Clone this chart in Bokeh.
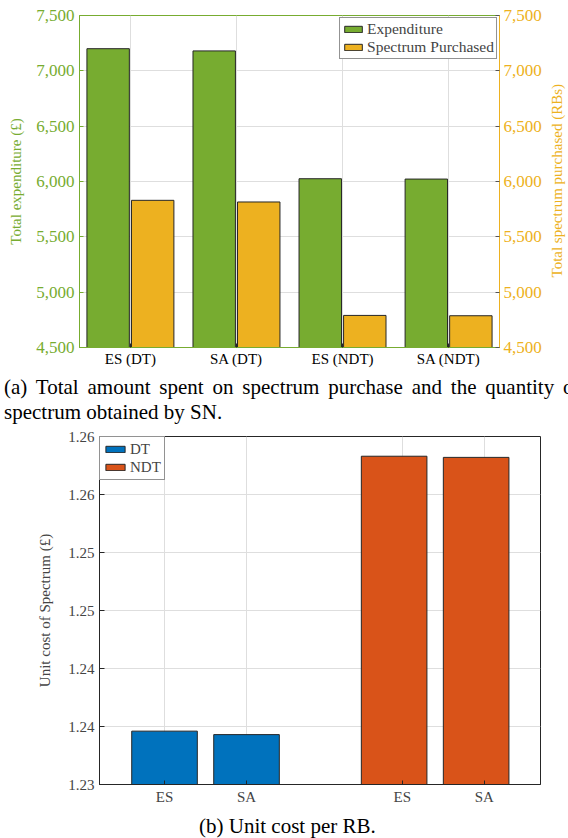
import numpy as np
from bokeh.plotting import figure
from bokeh.models import (Range1d, LinearAxis, FixedTicker, NumeralTickFormatter,
                          Legend, LegendItem, Div)
from bokeh.layouts import column, row
from bokeh.embed import file_html
from bokeh.resources import INLINE

# ---------------- data (a) ----------------
categories_a = ["ES (DT)", "SA (DT)", "ES (NDT)", "SA (NDT)"]
expenditure = [7200, 7180, 6025, 6022]
spectrum_purchased = [5830, 5815, 4790, 4787]
ticks_a = [4500, 5000, 5500, 6000, 6500, 7000, 7500]

# ---------------- data (b) ----------------
schemes_b = ["ES", "SA"]
unit_cost_dt = [1.2346, 1.2343]
unit_cost_ndt = [1.2583, 1.2582]
dt_pos = [1, 2]
ndt_pos = [3.8, 4.8]
tick_pos_b = [1, 2, 3.9, 4.9]
tick_text_b = ["ES", "SA", "ES", "SA"]
ticks_b = [1.230, 1.235, 1.240, 1.245, 1.250, 1.255, 1.260]
tick_labels_b = ["1.23", "1.24", "1.24", "1.25", "1.25", "1.26", "1.26"]

caption_a1 = "(a) Total amount spent on spectrum purchase and the quantity of"
caption_a2 = "spectrum obtained by SN."
caption_b = "(b) Unit cost per RB."
right_label_a = "Total spectrum purchased (RBs)"

FONT = "Liberation Serif"
CSS_FONT = "font-family:'Liberation Serif',serif;"
GREEN = "#77AC30"
ORANGE = "#EDB120"
BLUE = "#0072BD"
RED = "#D95319"
EDGE = "#262626"
GRID = "#dedede"

W = 568
RLAB_W = 20


def no_frame_align(p):
    try:
        p.frame_align = False
    except Exception:
        pass


# ================= chart (a) =================
x_a = np.arange(1, len(categories_a) + 1)
y0_a, y1_a = ticks_a[0], ticks_a[-1]
H1 = 369
p1 = figure(width=W - RLAB_W, height=H1, x_range=Range1d(0.52, 4.48),
            y_range=Range1d(y0_a, y1_a), output_backend="svg",
            toolbar_location=None, min_border_left=79, min_border_right=49,
            min_border_top=15, min_border_bottom=22)
no_frame_align(p1)
p1.extra_y_ranges = {"spec": Range1d(y0_a, y1_a)}

r_exp = p1.vbar(x=x_a - 0.21, top=expenditure, bottom=y0_a, width=0.40,
                fill_color=GREEN, line_color=EDGE, line_width=1)
r_spec = p1.vbar(x=x_a + 0.21, top=spectrum_purchased, bottom=y0_a, width=0.40,
                 fill_color=ORANGE, line_color=EDGE, line_width=1,
                 y_range_name="spec")

p1.outline_line_color = GREEN
p1.outline_line_width = 1
p1.grid.grid_line_color = GRID

xa = p1.xaxis[0]
xa.ticker = FixedTicker(ticks=[int(v) for v in x_a])
xa.major_label_overrides = {int(v): c for v, c in zip(x_a, categories_a)}
xa.major_label_text_font = FONT
xa.major_label_text_font_size = "15px"
xa.major_label_text_color = "black"
xa.major_label_standoff = 3
xa.axis_line_color = GREEN
xa.major_tick_in = 4
xa.major_tick_out = 0
xa.major_tick_line_color = EDGE
xa.minor_tick_line_color = None

ya = p1.yaxis[0]
ya.ticker = FixedTicker(ticks=ticks_a)
ya.formatter = NumeralTickFormatter(format="0,0")
ya.axis_label = "Total expenditure (£)"
ya.axis_label_text_font = FONT
ya.axis_label_text_font_style = "normal"
ya.axis_label_text_font_size = "15px"
ya.axis_label_text_color = GREEN
ya.axis_label_standoff = 9
ya.major_label_text_font = FONT
ya.major_label_text_font_size = "17px"
ya.major_label_text_color = GREEN
ya.major_label_standoff = 5
ya.axis_line_color = GREEN
ya.major_tick_in = 4
ya.major_tick_out = 0
ya.major_tick_line_color = GREEN
ya.minor_tick_line_color = None

ra = LinearAxis(y_range_name="spec", ticker=FixedTicker(ticks=ticks_a),
                formatter=NumeralTickFormatter(format="0,0"))
ra.major_label_text_font = FONT
ra.major_label_text_font_size = "17px"
ra.major_label_text_color = ORANGE
ra.major_label_standoff = 4
ra.axis_line_color = ORANGE
ra.major_tick_in = 4
ra.major_tick_out = 0
ra.major_tick_line_color = "#555555"
ra.minor_tick_line_color = None
p1.add_layout(ra, "right")

leg1 = Legend(items=[LegendItem(label="Expenditure", renderers=[r_exp]),
                     LegendItem(label="Spectrum Purchased", renderers=[r_spec])],
              location="top_right", margin=2, padding=2, spacing=0,
              label_height=18, glyph_width=22, glyph_height=8, label_standoff=3,
              label_text_font=FONT, label_text_font_size="15.5px",
              border_line_color=EDGE, border_line_width=1,
              background_fill_color="white", background_fill_alpha=1)
p1.add_layout(leg1)

# right-hand axis title (reads bottom-to-top, like the original)
div_r = Div(text=('<div style="box-sizing:border-box;height:332px;margin-top:15px;'
                  'padding-left:1px;display:flex;align-items:center;justify-content:center;">'
                  f'<span style="{CSS_FONT}font-size:15px;line-height:16px;color:{ORANGE};'
                  'writing-mode:vertical-rl;transform:rotate(180deg);white-space:nowrap;">'
                  f'{right_label_a}</span></div>'),
            width=RLAB_W, height=H1, margin=0, styles={"overflow": "visible"})

div_a = Div(text=(f'<div style="{CSS_FONT}font-size:21px;line-height:25px;'
                  'white-space:nowrap;padding:6px 0 0 4px;color:#000;">'
                  f'<span style="word-spacing:3.6px;">{caption_a1}</span><br>'
                  f'<span>{caption_a2}</span></div>'),
            width=W, height=56, margin=0, styles={"overflow": "hidden"})

# ================= chart (b) =================
y0_b, y1_b = ticks_b[0], ticks_b[-1]
p2 = figure(width=W, height=382, x_range=Range1d(0.207, 5.585),
            y_range=Range1d(y0_b, y1_b), output_backend="svg",
            toolbar_location=None, min_border_left=99, min_border_right=28,
            min_border_top=11, min_border_bottom=23)
no_frame_align(p2)

r_dt = p2.vbar(x=dt_pos, top=unit_cost_dt, bottom=y0_b, width=0.8,
               fill_color=BLUE, line_color=EDGE, line_width=1)
r_ndt = p2.vbar(x=ndt_pos, top=unit_cost_ndt, bottom=y0_b, width=0.8,
                fill_color=RED, line_color=EDGE, line_width=1)

p2.outline_line_color = EDGE
p2.grid.grid_line_color = GRID

xb = p2.xaxis[0]
xb.ticker = FixedTicker(ticks=tick_pos_b)
xb.major_label_overrides = {v: t for v, t in zip(tick_pos_b, tick_text_b)}
xb.major_label_text_font = FONT
xb.major_label_text_font_size = "15px"
xb.major_label_standoff = 4
xb.axis_line_color = EDGE
xb.major_tick_in = 4
xb.major_tick_out = 0
xb.major_tick_line_color = EDGE
xb.minor_tick_line_color = None

yb = p2.yaxis[0]
yb.ticker = FixedTicker(ticks=ticks_b)
yb.major_label_overrides = {v: t for v, t in zip(ticks_b, tick_labels_b)}
yb.axis_label = "Unit cost of Spectrum (£)"
yb.axis_label_text_font = FONT
yb.axis_label_text_font_style = "normal"
yb.axis_label_text_font_size = "15px"
yb.axis_label_standoff = 12
yb.major_label_text_font = FONT
yb.major_label_text_font_size = "15px"
yb.major_label_standoff = 5
yb.axis_line_color = EDGE
yb.major_tick_in = 5
yb.major_tick_out = 0
yb.major_tick_line_color = EDGE
yb.minor_tick_line_color = None

leg2 = Legend(items=[LegendItem(label="DT", renderers=[r_dt]),
                     LegendItem(label="NDT", renderers=[r_ndt])],
              location="top_left", margin=0, padding=3, spacing=0,
              label_height=18, glyph_width=24, glyph_height=8, label_standoff=3,
              label_text_font=FONT, label_text_font_size="15px",
              border_line_color=EDGE, border_line_width=1,
              background_fill_color="white", background_fill_alpha=1)
p2.add_layout(leg2)

div_b = Div(text=(f'<div style="{CSS_FONT}font-size:21px;line-height:25px;'
                  'white-space:nowrap;padding:7px 0 0 199px;color:#000;">'
                  f'{caption_b}</div>'),
            width=W, height=25, margin=0, styles={"overflow": "visible"})

layout = column(row(p1, div_r, spacing=0), div_a, p2, div_b, spacing=0)
open("out.html", "w").write(file_html(layout, INLINE))
